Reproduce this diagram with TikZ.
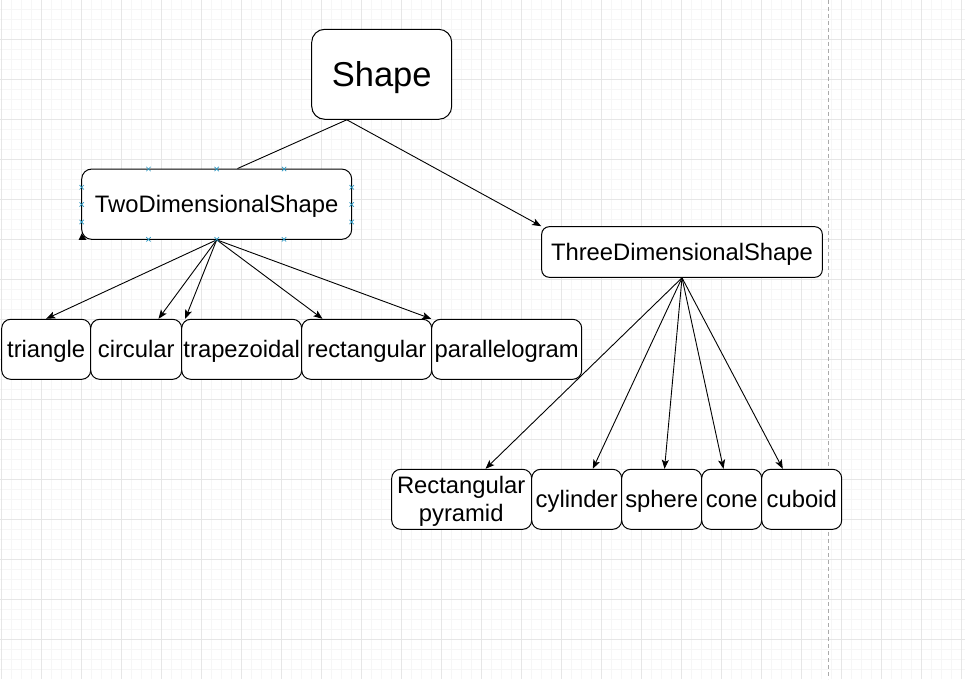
\documentclass[tikz,border=0pt]{standalone}
\usepackage{fontspec}
\setmainfont{Liberation Sans}
\usetikzlibrary{arrows.meta}
\definecolor{minorgrid}{RGB}{246,246,246}
\definecolor{majorgrid}{RGB}{230,230,230}
\definecolor{dashgray}{RGB}{170,170,170}
\definecolor{handle}{RGB}{41,151,194}
\tikzset{
  box/.style={draw=black, line width=1pt, fill=white, inner sep=0pt,
    font=\fontsize{23.8}{28}\selectfont, text height=17pt, text depth=0pt},
  bigbox/.style={box, font=\fontsize{34.5}{40}\selectfont, text height=24.7pt},
  txt/.style={inner sep=0pt, font=\fontsize{23.8}{28}\selectfont},
  conn/.style={line width=0.9pt, draw=black, -{Stealth[length=9pt,width=7pt,inset=2pt]}},
  plainconn/.style={line width=0.9pt, draw=black},
  minorline/.style={draw=minorgrid, line width=0.8pt},
  majorline/.style={draw=majorgrid, line width=0.8pt},
  dashline/.style={draw=dashgray, line width=1pt, dash pattern=on 4pt off 3pt},
  handlemark/.style={draw=handle, line width=0.7pt}
}
\begin{document}
\begin{tikzpicture}[x=1pt,y=-1pt]
\useasboundingbox (0,0) rectangle (965,679);
\fill[white] (0,0) rectangle (965,679);
% grid
\foreach \x in {1.5,11.5,...,961.5} \draw[minorline] (\x,0) -- (\x,679);
\foreach \y in {9.3,19.3,...,679} \draw[minorline] (0,\y) -- (965,\y);
\foreach \x in {1.5,41.5,...,961.5} \draw[majorline] (\x,0) -- (\x,679);
\foreach \y in {39.3,79.3,...,679} \draw[majorline] (0,\y) -- (965,\y);
\draw[dashline] (828.7,0) -- (828.7,679);

% nodes
\node[bigbox, rounded corners=13pt, minimum width=140pt, minimum height=90pt] (shape) at (381.7,74.3) {Shape};
\node[box, rounded corners=10pt, minimum width=270pt, minimum height=70.3pt] (two) at (216.7,204.2) {TwoDimensionalShape};
\node[box, rounded corners=7.5pt, minimum width=280.6pt, minimum height=50.6pt] (three) at (682,252) {ThreeDimensionalShape};

\node[box, rounded corners=9pt, minimum width=89pt, minimum height=60pt] (tri) at (46.2,349.3) {triangle};
\node[box, rounded corners=9pt, minimum width=91pt, minimum height=60pt] (circ) at (136.2,349.3) {circular};
\node[box, rounded corners=9pt, minimum width=120pt, minimum height=60pt] (trap) at (241.7,349.3) {trapezoidal};
\node[box, rounded corners=9pt, minimum width=130pt, minimum height=60pt] (rect) at (366.7,349.3) {rectangular};
\node[box, rounded corners=9pt, minimum width=150pt, minimum height=60pt] (para) at (506.7,349.3) {parallelogram};

\node[box, rounded corners=9pt, minimum width=140pt, minimum height=60pt] (pyr) at (461.7,499.3) {};
\node[txt, anchor=base] (pyrtop) at (461.2,493.3) {Rectangular};
\node[txt, anchor=base] (pyrbot) at (461.2,521.3) {pyramid};
\node[box, rounded corners=9pt, minimum width=90pt, minimum height=60pt] (cyl) at (576.7,499.3) {cylinder};
\node[box, rounded corners=9pt, minimum width=80pt, minimum height=60pt] (sph) at (661.7,499.3) {sphere};
\node[box, rounded corners=9pt, minimum width=60pt, minimum height=60pt] (cone) at (731.7,499.3) {cone};
\node[box, rounded corners=9pt, minimum width=80pt, minimum height=60pt] (cub) at (801.7,499.3) {cuboid};

% connectors
\draw[plainconn] ([xshift=35.6pt]shape.south west) -- ([xshift=156.3pt]two.north west);
\draw[conn] ([xshift=35.6pt]shape.south west) -- (three.north west);

\draw[conn] (two.south) -- (tri.north);
\draw[conn] (two.south) -- ([xshift=68.3pt]circ.north west);
\draw[conn] (two.south) -- ([xshift=4pt]trap.north west);
\draw[conn] (two.south) -- ([xshift=21.3pt]rect.north west);
\draw[conn] (two.south) -- (para.north west);

\draw[conn] (three.south) -- ([xshift=94.3pt]pyr.north west);
\draw[conn] (three.south) -- ([xshift=61.6pt]cyl.north west);
\draw[conn] (three.south) -- ([xshift=43.3pt]sph.north west);
\draw[conn] (three.south) -- ([xshift=22.3pt]cone.north west);
\draw[conn] (three.south) -- ([xshift=21.6pt]cub.north west);

% selection handles on TwoDimensionalShape
\foreach \hx in {148.5,216.7,284} {
  \foreach \hy in {169,239.3} {
    \draw[handlemark] (\hx-2.2,\hy-2.2) -- (\hx+2.2,\hy+2.2) (\hx-2.2,\hy+2.2) -- (\hx+2.2,\hy-2.2);
  }
}
\foreach \hx in {81.7,351.7} {
  \foreach \hy in {187.3,204.5,222} {
    \draw[handlemark] (\hx-2.2,\hy-2.2) -- (\hx+2.2,\hy+2.2) (\hx-2.2,\hy+2.2) -- (\hx+2.2,\hy-2.2);
  }
}
\fill[black] (78.7,239.8) -- (86.5,239.8) -- (81.7,233.5) -- cycle;
\end{tikzpicture}
\end{document}
